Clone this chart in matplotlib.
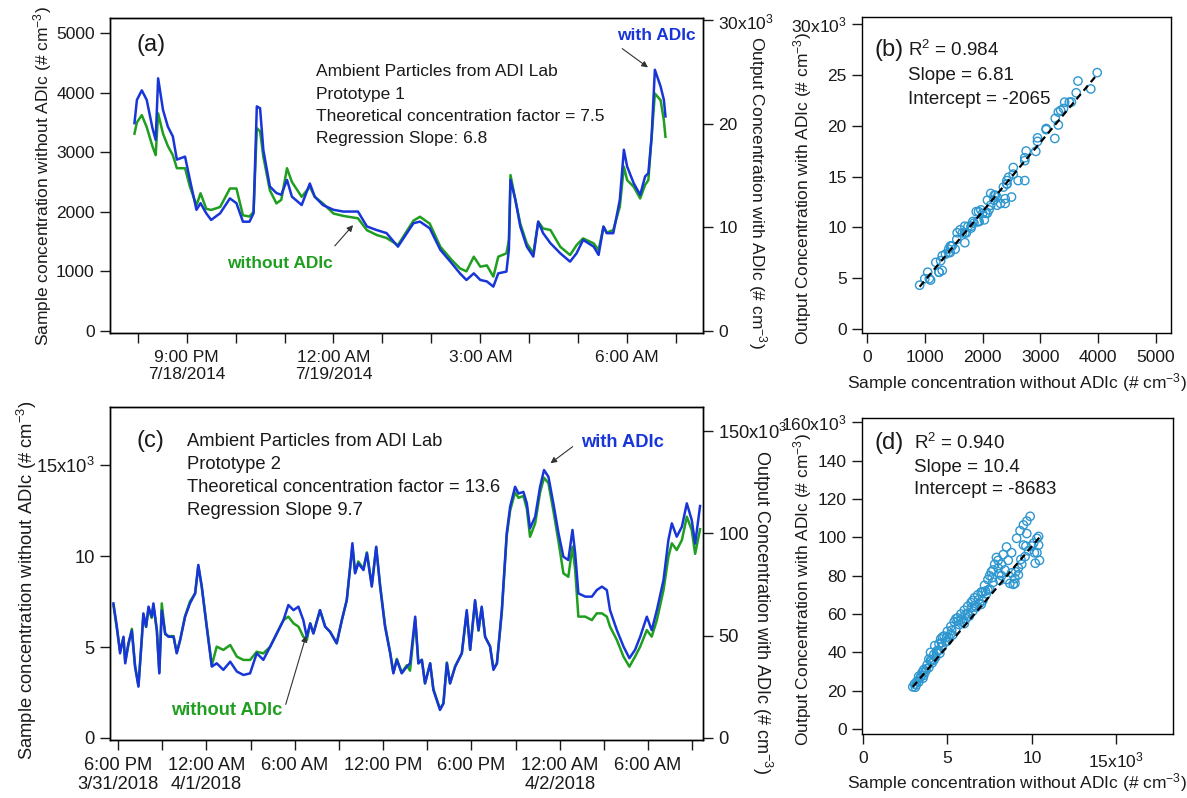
import numpy as np
import pandas as pd
import matplotlib
matplotlib.use("Agg")
import matplotlib.pyplot as plt

plt.rcParams['font.family'] = ['Liberation Sans', 'DejaVu Sans']
plt.rcParams['mathtext.fontset'] = 'custom'
plt.rcParams['mathtext.rm'] = 'Liberation Sans'
plt.rcParams['mathtext.it'] = 'Liberation Sans:italic'
plt.rcParams['mathtext.bf'] = 'Liberation Sans:bold'

####################
## DATOS  (a)/(b) ##
####################
# minutes after 7/18/2014 20:00
a_minutes = [-4, -1, 5, 11, 18, 22, 25, 31, 37, 43,
             48, 58, 64, 72, 77, 84, 90, 101, 113, 121,
             129, 137, 142, 146, 150, 154, 162, 170, 176, 183,
             189, 201, 211, 217, 227, 240, 252, 270, 281, 293,
             305, 319, 338, 346, 358, 371, 385, 395, 403, 412,
             420, 428, 436, 442, 452, 455, 457, 463, 469, 477,
             485, 491, 497, 506, 518, 530, 538, 546, 559, 565,
             571, 575, 583, 591, 596, 600, 608, 616, 622, 626,
             630, 634, 641, 645, 647]
# sample concentration without ADIc (# cm-3)
a_without = [3310, 3500, 3620, 3420, 3100, 2950, 3650, 3310, 3100, 2950,
             2730, 2730, 2420, 2110, 2310, 2050, 2030, 2080, 2390, 2390,
             1940, 1920, 2000, 3400, 3350, 2920, 2360, 2140, 2200, 2730,
             2500, 2250, 2420, 2250, 2140, 1970, 1930, 1890, 1690, 1610,
             1560, 1441, 1850, 1916, 1800, 1413, 1190, 1050, 1000, 1246,
             1078, 1100, 911, 1246, 1302, 1525, 2615, 2196, 1800, 1469,
             1302, 1832, 1720, 1693, 1413, 1274, 1440, 1553, 1469, 1358,
             1749, 1650, 1693, 2084, 2754, 2531, 2419, 2223, 2450, 2530,
             3250, 3983, 3872, 3536, 3257]
# output concentration with ADIc (# cm-3)
a_with = [20080, 22330, 23250, 22330, 19620, 18460, 24410, 21350, 19730, 18810,
          16560, 16850, 14600, 11710, 12350, 11370, 10730, 11370, 12810, 12350,
          10560, 10560, 11370, 21700, 21520, 17480, 13960, 13330, 13160, 14600,
          12980, 12170, 14250, 12980, 12170, 11710, 11540, 11540, 10100, 9750,
          9460, 8150, 10410, 10570, 9920, 7840, 6540, 5570, 4930, 5570,
          4930, 4790, 4290, 5570, 5740, 7840, 14600, 12670, 10090, 8150,
          7190, 10570, 9450, 8480, 7510, 6700, 7510, 8800, 8150, 7350,
          10090, 9450, 9450, 12670, 17510, 15890, 14280, 13150, 14930, 15240,
          18750, 25240, 23630, 22340, 20730]
b_r2, b_slope, b_intercept = 0.984, 6.81, -2065

a_xticks = ['2014-07-18 21:00', '2014-07-19 00:00', '2014-07-19 03:00', '2014-07-19 06:00']
a_xticklabels = ['9:00 PM\n7/18/2014', '12:00 AM\n7/19/2014', '3:00 AM', '6:00 AM']
a_yticks = [0, 1000, 2000, 3000, 4000, 5000]
a_y2ticks = [0, 10000, 20000, 30000]
a_y2labels = ['0', '10', '20', '30x10$^{3}$']
b_xticks = [0, 1000, 2000, 3000, 4000, 5000]
b_yticks = [0, 5000, 10000, 15000, 20000, 25000, 30000]
b_ylabels = ['0', '5', '10', '15', '20', '25', '30x10$^{3}$']

####################
## DATOS  (c)/(d) ##
####################
# minutes after 3/31/2018 18:00
c_minutes = [-19, -5, 8, 22, 29, 42, 56, 69, 83, 97,
             103, 114, 124, 137, 144, 158, 168, 178, 192, 205,
             226, 239, 253, 273, 293, 314, 327, 341, 361, 382,
             402, 429, 457, 484, 511, 538, 565, 592, 620, 647,
             674, 694, 715, 735, 755, 769, 783, 796, 823, 844,
             864, 891, 912, 932, 946, 955, 966, 979, 1000, 1014,
             1034, 1052, 1068, 1088, 1109, 1122, 1136, 1156, 1177, 1190,
             1211, 1224, 1238, 1251, 1272, 1285, 1312, 1326, 1340, 1353,
             1374, 1401, 1421, 1435, 1455, 1469, 1482, 1496, 1516, 1530,
             1544, 1564, 1584, 1598, 1618, 1632, 1652, 1666, 1679, 1700,
             1720, 1736, 1754, 1774, 1795, 1815, 1835, 1852, 1863, 1876,
             1904, 1931, 1951, 1972, 1992, 2005, 2033, 2060, 2084, 2107,
             2128, 2155, 2175, 2196, 2223, 2243, 2257, 2277, 2298, 2318,
             2338, 2352, 2372]
c_without = [7300, 6000, 4800, 5500, 4200, 5100, 6000, 4000, 2900, 5500,
             6800, 6100, 7100, 6600, 7300, 5900, 3600, 7400, 5700, 5600,
             5600, 4700, 5400, 6700, 7500, 7950, 9450, 8300, 6200, 4000,
             5020, 4840, 5110, 4470, 4290, 4290, 4740, 4650, 5020, 5750,
             6480, 6670, 6300, 6120, 5570, 5380, 6300, 5750, 7030, 6120,
             5840, 5200, 6480, 7580, 9410, 10500, 9100, 9700, 9300, 10200,
             8400, 10450, 8400, 6200, 4700, 3600, 4350, 3600, 4000, 3700,
             6500, 4100, 4300, 3000, 4100, 2700, 1600, 1900, 4150, 3000,
             3950, 4650, 6900, 4850, 7500, 5900, 7150, 5550, 5050, 3800,
             4100, 6900, 11100, 12500, 13500, 13200, 13300, 12600, 11060, 11800,
             13500, 14300, 14000, 12500, 10800, 9050, 8860, 10510, 9230, 6670,
             6670, 6480, 6850, 6850, 6670, 6120, 5380, 4470, 3920, 4470,
             5020, 5930, 5570, 6480, 8130, 9960, 10700, 10330, 10880, 12160,
             11430, 10120, 11470]
c_with = [65800, 54400, 41400, 49500, 36500, 46300, 52500, 34900, 25100, 49500,
          60900, 54400, 64200, 59300, 65800, 52700, 31600, 62300, 51100, 49500,
          49500, 41400, 47900, 59300, 65800, 70700, 84600, 74000, 54400, 34900,
          36500, 33300, 37300, 32500, 30800, 31600, 41400, 38200, 44700, 51100,
          57600, 65000, 62500, 64200, 57600, 49500, 56000, 51100, 62500, 54400,
          51900, 46300, 57600, 67400, 83700, 95200, 80500, 85400, 82100, 90300,
          74000, 93500, 74000, 54400, 41400, 31600, 38200, 31600, 34900, 36500,
          59300, 36500, 38200, 26700, 36500, 23500, 13700, 16900, 36500, 26700,
          34900, 41400, 62500, 43100, 67400, 52700, 64200, 49500, 44700, 33300,
          36500, 62500, 100100, 113100, 122800, 119500, 120300, 114700, 102500, 108200,
          122800, 131000, 127700, 114700, 100100, 88600, 87000, 101700, 90300, 70700,
          69100, 69100, 72300, 74000, 72300, 62500, 52700, 44700, 39000, 43100,
          49500, 59300, 52700, 62500, 77200, 96800, 104900, 98400, 103300, 114700,
          106600, 95000, 113400]

# scatter (d)
d_without = [2950, 3050, 3100, 3200, 3300, 3400, 3500, 3550, 3600, 3700,
             3800, 3900, 4000, 4100, 4200, 4250, 4300, 4400, 4500, 4550,
             4600, 4700, 4800, 4900, 5000, 5100, 5200, 5300, 5400, 5500,
             5600, 5700, 5800, 5900, 6000, 6100, 6200, 6300, 6400, 6500,
             6600, 6700, 6800, 6900, 7000, 7100, 7200, 7300, 7400, 7500,
             7600, 7700, 7800, 7900, 8000, 8100, 8200, 8300, 8500, 8600,
             8700, 8800, 8900, 9000, 9100, 9200, 9300, 9400, 9500, 9600,
             9700, 9800, 9900, 10000, 10100, 10200, 10300, 10400, 10450,
             3150, 3450, 3750, 4050, 4350, 4650, 4950, 5250, 5650, 6050,
             6450, 6850, 7250, 7650, 8050, 8400, 9050, 9350, 9650, 10150,
             4000, 4500, 5000, 5500, 6000, 6500, 7000, 7500, 8000, 8500,
             9000, 9200, 8800, 9700, 10300, 10400, 3300, 3600, 3900, 4200,
             4700, 5200, 5800, 6200, 6600, 7100, 7400, 7700, 8200, 9500]
d_with = [22000, 23500, 21800, 25000, 24500, 27000, 29500, 26500, 31000, 30000,
          33500, 32000, 36000, 34500, 39000, 43500, 37500, 41000, 44500, 39500,
          47000, 43000, 48500, 45500, 51000, 47500, 53500, 49000, 56000, 52000,
          58000, 54500, 60000, 56000, 62000, 57500, 64000, 59000, 66000, 61500,
          68500, 63500, 70000, 65500, 71500, 67000, 75000, 70500, 78000, 73000,
          82000, 76500, 86000, 89500, 84000, 77500, 80000, 91000, 95000, 88000,
          76000, 81500, 75500, 78500, 99500, 80500, 103500, 86000, 106500, 90000,
          108500, 93000, 111000, 95500, 97000, 86500, 99500, 100500, 88000,
          23000, 28000, 31500, 35500, 40000, 45000, 48000, 51500, 56500, 59500,
          63500, 67500, 72000, 79000, 81000, 83000, 82000, 88500, 95500, 92000,
          40000, 41000, 46000, 57500, 55000, 67000, 65000, 80000, 88000, 78000,
          76000, 84000, 92000, 102000, 92000, 96000, 27500, 28000, 36500, 36000,
          48000, 49500, 57000, 60500, 64500, 71500, 72500, 83000, 86000, 96000]
d_r2, d_slope, d_intercept = 0.940, 10.4, -8683

c_xticks = ['2018-03-31 18:00', '2018-04-01 00:00', '2018-04-01 06:00', '2018-04-01 12:00',
            '2018-04-01 18:00', '2018-04-02 00:00', '2018-04-02 06:00']
c_xticklabels = ['6:00 PM\n3/31/2018', '12:00 AM\n4/1/2018', '6:00 AM', '12:00 PM',
                 '6:00 PM', '12:00 AM\n4/2/2018', '6:00 AM']
c_yticks = [0, 5000, 10000, 15000]
c_ylabels = ['0', '5', '10', '15x10$^{3}$']
c_y2ticks = [0, 50000, 100000, 150000]
c_y2labels = ['0', '50', '100', '150x10$^{3}$']
d_xticks = [0, 5000, 10000, 15000]
d_xlabels = ['0', '5', '10', '15x10$^{3}$']
d_yticks = [0, 20000, 40000, 60000, 80000, 100000, 120000, 140000, 160000]
d_ylabels = ['0', '20', '40', '60', '80', '100', '120', '140', '160x10$^{3}$']

GREEN = '#1f9e1f'
BLUE = '#1836d8'
SCAT = '#2e97d0'
TXT = '#1a1a1a'

lbl_without = 'Sample concentration without ADIc (# cm$^{-3}$)'
lbl_with = 'Output Concentration with ADIc (# cm$^{-3}$)'

#################
####  PLOTS  ####
#################
W, H = 1187, 798
fig = plt.figure(figsize=(W / 100, H / 100), dpi=100)


def box(l, t, r, b):
    return [l / W, 1 - b / H, (r - l) / W, (b - t) / H]


def fp(x, y):
    return x / W, 1 - y / H


def estilo(ax, fs):
    ax.tick_params(which='both', direction='out', length=7, width=1,
                   labelsize=fs, pad=4, colors=TXT)
    ax.tick_params(axis='x', which='both', pad=5)
    for s in ax.spines.values():
        s.set_linewidth(1)


# ---- (a) ----
ta = pd.Timestamp('2014-07-18 20:00') + pd.to_timedelta(a_minutes, unit='min')
axA = fig.add_axes(box(110, 18, 703, 333))
axA.plot(ta, a_without, color=GREEN, lw=1.8)
axA.set_ylim(-34, 5250)
axA.set_yticks(a_yticks)
axA.set_xlim(pd.Timestamp('2014-07-18 19:26'), pd.Timestamp('2014-07-19 07:33'))
axA2 = axA.twinx()
axA2.plot(ta, a_with, color=BLUE, lw=1.8)
axA2.set_ylim(-193, 30240)
axA2.set_yticks(a_y2ticks)
axA2.set_yticklabels(a_y2labels)
axA.set_xticks(pd.to_datetime(a_xticks))
axA.set_xticklabels(a_xticklabels)
axA.set_xticks(pd.date_range('2014-07-18 20:00', '2014-07-19 07:00', freq='h'), minor=True)
estilo(axA, 12.5)
estilo(axA2, 12.5)

axA.text(0.045, 0.914, '(a)', transform=axA.transAxes, fontsize=17, color=TXT, va='center')
for i, s in enumerate(['Ambient Particles from ADI Lab', 'Prototype 1',
                       'Theoretical concentration factor = 7.5', 'Regression Slope: 6.8']):
    fig.text(*fp(316, 72 + 22.3 * i), s, fontsize=12.5, color=TXT, va='center')
axA.text(0.287, 0.222, 'without ADIc', transform=axA.transAxes, color=GREEN,
         fontsize=12.5, fontweight='bold', ha='center', va='center')
axA.annotate('', xy=(0.413, 0.349), xycoords='axes fraction', xytext=(0.376, 0.270),
             arrowprops=dict(arrowstyle='-|>', color='#333333', lw=0.8, mutation_scale=9))
axA.text(0.922, 0.943, 'with ADIc', transform=axA.transAxes, color=BLUE,
         fontsize=12.5, fontweight='bold', ha='center', va='center')
axA.annotate('', xy=(0.911, 0.838), xycoords='axes fraction', xytext=(0.860, 0.908),
             arrowprops=dict(arrowstyle='-|>', color='#333333', lw=0.8, mutation_scale=9))
fig.text(*fp(43, 176), lbl_without, rotation=90, ha='center', va='center', fontsize=12.5, color=TXT)
fig.text(*fp(757, 192), lbl_with, rotation=270, ha='center', va='center', fontsize=12.5, color=TXT)

# ---- (b) ----
axB = fig.add_axes(box(862, 17, 1171, 333))
axB.scatter(a_without, a_with, s=36, facecolors='none', edgecolors=SCAT, linewidths=1.0)
xb = np.array([min(a_without), max(a_without)])
axB.plot(xb, b_slope * xb + b_intercept, color='black', ls=(0, (3, 2)), lw=1.6)
axB.set_xlim(-87, 5260)
axB.set_ylim(-420, 30720)
axB.set_xticks(b_xticks)
axB.set_yticks(b_yticks)
axB.set_yticklabels(b_ylabels)
estilo(axB, 12.5)
fig.text(*fp(875, 50), '(b)', fontsize=17, color=TXT, va='center')
fig.text(*fp(908, 50), 'R$^{2}$ = %.3f' % b_r2, fontsize=13.5, color=TXT, va='center')
fig.text(*fp(908, 75), 'Slope = %.2f' % b_slope, fontsize=13.5, color=TXT, va='center')
fig.text(*fp(908, 99), 'Intercept = %d' % b_intercept, fontsize=13.5, color=TXT, va='center')
fig.text(*fp(803, 189), lbl_with, rotation=90, ha='center', va='center', fontsize=12.5, color=TXT)
fig.text(*fp(1017, 383), lbl_without, ha='center', va='center', fontsize=12.5, color=TXT)

# ---- (c) ----
tc = pd.Timestamp('2018-03-31 18:00') + pd.to_timedelta(c_minutes, unit='min')
axC = fig.add_axes(box(110, 407, 703, 740))
axC.plot(tc, c_without, color=GREEN, lw=1.8)
axC.set_ylim(-110, 18190)
axC.set_yticks(c_yticks)
axC.set_yticklabels(c_ylabels)
axC.set_xlim(pd.Timestamp('2018-03-31 17:27'), pd.Timestamp('2018-04-02 09:44'))
axC2 = axC.twinx()
axC2.plot(tc, c_with, color=BLUE, lw=1.8)
axC2.set_ylim(-980, 161800)
axC2.set_yticks(c_y2ticks)
axC2.set_yticklabels(c_y2labels)
axC.set_xticks(pd.to_datetime(c_xticks))
axC.set_xticklabels(c_xticklabels)
axC.set_xticks(pd.date_range('2018-03-31 18:00', '2018-04-02 09:00', freq='3h'), minor=True)
estilo(axC, 13.2)
estilo(axC2, 13.2)

axC.text(0.045, 0.897, '(c)', transform=axC.transAxes, fontsize=17, color=TXT, va='center')
for i, s in enumerate(['Ambient Particles from ADI Lab', 'Prototype 2',
                       'Theoretical concentration factor = 13.6', 'Regression Slope 9.7']):
    fig.text(*fp(187, 442 + 22.8 * i), s, fontsize=13.2, color=TXT, va='center')
axC.text(0.197, 0.090, 'without ADIc', transform=axC.transAxes, color=GREEN,
         fontsize=13.2, fontweight='bold', ha='center', va='center')
axC.annotate('', xy=(0.332, 0.321), xycoords='axes fraction', xytext=(0.295, 0.099),
             arrowprops=dict(arrowstyle='-|>', color='#333333', lw=0.8, mutation_scale=9))
axC.text(0.865, 0.892, 'with ADIc', transform=axC.transAxes, color=BLUE,
         fontsize=13.2, fontweight='bold', ha='center', va='center')
axC.annotate('', xy=(0.739, 0.826), xycoords='axes fraction', xytext=(0.784, 0.886),
             arrowprops=dict(arrowstyle='-|>', color='#333333', lw=0.8, mutation_scale=9))
fig.text(*fp(27, 580), lbl_without, rotation=90, ha='center', va='center', fontsize=13.2, color=TXT)
fig.text(*fp(762, 612), lbl_with, rotation=270, ha='center', va='center', fontsize=13, color=TXT)

# ---- (d) ----
axD = fig.add_axes(box(862, 418, 1173, 734))
axD.scatter(d_without, d_with, s=36, facecolors='none', edgecolors=SCAT, linewidths=1.0)
xd = np.array([min(d_without), max(d_without)])
axD.plot(xd, d_slope * xd + d_intercept, color='black', ls=(0, (3, 2)), lw=1.6)
axD.set_xlim(-60, 18360)
axD.set_ylim(-2600, 162300)
axD.set_xticks(d_xticks)
axD.set_xticklabels(d_xlabels)
axD.set_yticks(d_yticks)
axD.set_yticklabels(d_ylabels)
estilo(axD, 12.5)
fig.text(*fp(875, 443), '(d)', fontsize=17, color=TXT, va='center')
fig.text(*fp(914, 443), 'R$^{2}$ = %.3f' % d_r2, fontsize=13.5, color=TXT, va='center')
fig.text(*fp(914, 468), 'Slope = %.1f' % d_slope, fontsize=13.5, color=TXT, va='center')
fig.text(*fp(914, 490), 'Intercept = %d' % d_intercept, fontsize=13.5, color=TXT, va='center')
fig.text(*fp(803, 590), lbl_with, rotation=90, ha='center', va='center', fontsize=12.5, color=TXT)
fig.text(*fp(1017, 783), lbl_without, ha='center', va='center', fontsize=12.5, color=TXT)

fig.savefig('out.png', dpi=100)
